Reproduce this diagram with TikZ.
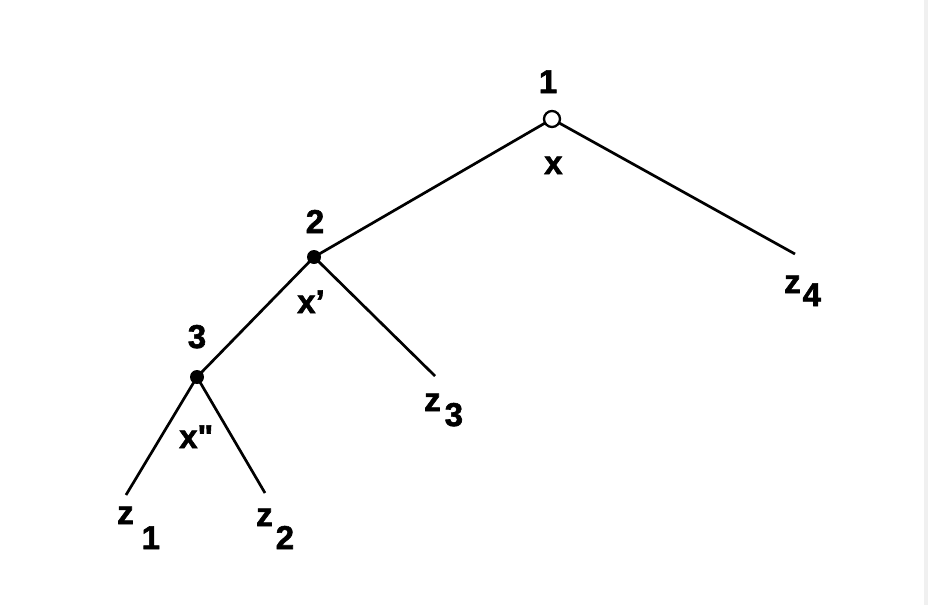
\documentclass[tikz,border=0pt]{standalone}
\usepackage{fontspec}
\setmainfont{Liberation Sans}
\newfontfamily\labfont{Liberation Sans Bold}[FakeBold=1.8]
\usepackage{tikz}
\usetikzlibrary{positioning}
\newcommand{\zsub}[3]{z\hspace{#2pt}\raisebox{-#3pt}{#1}}
\begin{document}
\begin{tikzpicture}
  [
  x=1pt,y=-1pt,
  every node/.style={font=\fontsize{33}{36}\labfont,inner sep=0pt},
  root/.style={circle,draw,fill=white,line width=2.3pt,minimum size=16pt},
  inner/.style={circle,fill=black,minimum size=14pt},
  branch/.style={line width=2.7pt},
  tag/.style={anchor=base},
  info/.style={anchor=base west}
  ]
  \useasboundingbox (0,0) rectangle (928,605);
  \fill[black!6] (924,0) rectangle (928,605);
  % leaf ends
  \coordinate (c1) at (126,495);
  \coordinate (c2) at (265,493);
  \coordinate (c3) at (435,376);
  \coordinate (c4) at (795,254);
  % branches
  \draw[branch] (552,119) -- (314,257) -- (197,377) -- (c1);
  \draw[branch] (552,119) -- (c4);
  \draw[branch] (314,257) -- (c3);
  \draw[branch] (197,377) -- (c2);
  % decision nodes
  \node[root] (n1) at (552,119) {};
  \node[inner] (n2) at (314,257) {};
  \node[inner] (n3) at (197,377) {};
  \node[tag] (t1) at (548,93) {1};
  \node[tag] (t2) at (315,233) {2};
  \node[tag] (t3) at (197,348) {3};
  \node[info] (x1) at (544,174) {x};
  \node[info] (x2) at (297,313) {x’};
  \node[info] (x3) at (179,448) {x\textquotedbl};
  % leaf labels
  \node[info] (z1) at (117,524) {\zsub{1}{8}{25}};
  \node[info] (z2) at (256,526) {\zsub{2}{3}{23}};
  \node[info] (z3) at (424,411) {\zsub{3}{4}{15}};
  \node[info] (z4) at (784,293) {\zsub{4}{2}{13}};
\end{tikzpicture}
\end{document}
